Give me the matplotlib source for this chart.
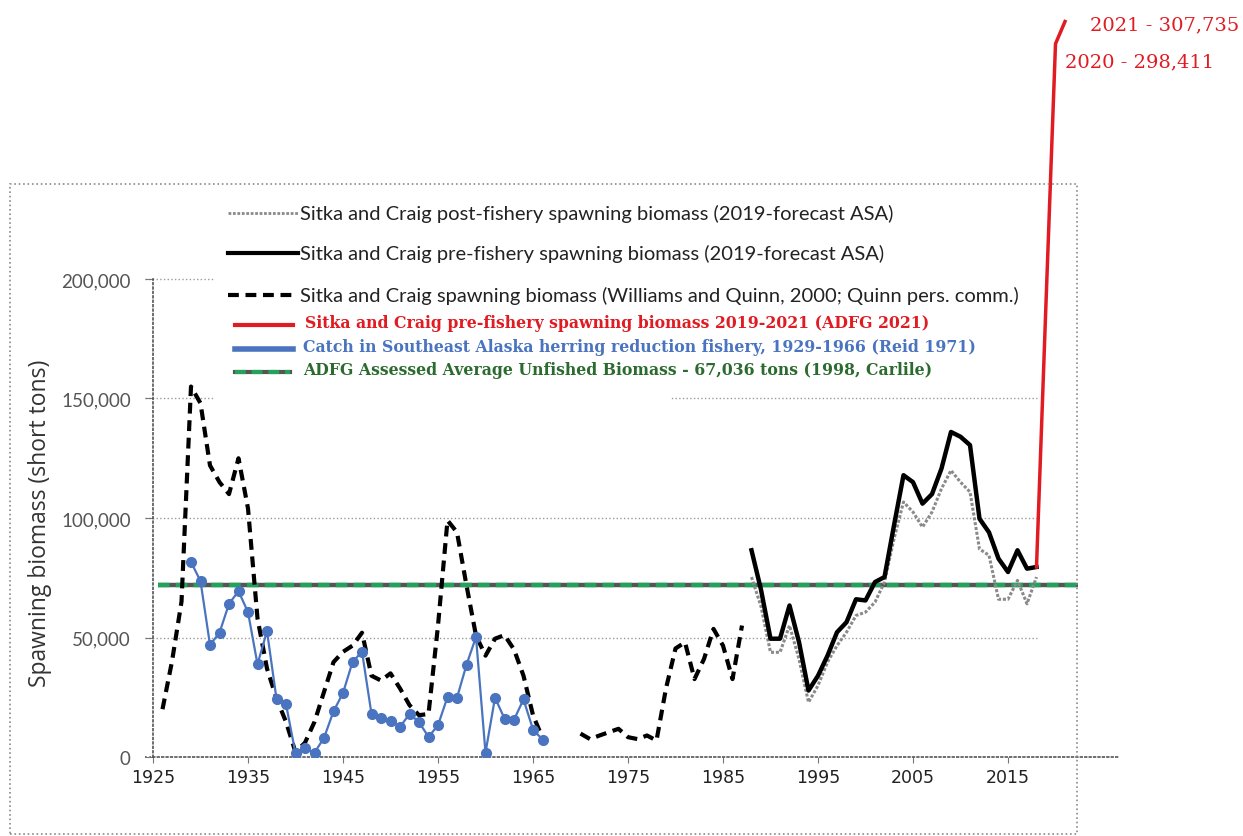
import matplotlib.pyplot as plt
from matplotlib.lines import Line2D
from matplotlib.patches import Rectangle

# Williams and Quinn spawning biomass (dashed black), tons
wq_years_a = list(range(1926, 1967))
wq_vals_a = [20000, 40000, 65000, 155000, 148000, 122000, 115000, 110000, 125000, 104000,
             58000, 37000, 24500, 14700, 2000, 6000, 14700, 27200, 39700, 44000,
             46600, 52000, 34000, 32000, 35000, 28700, 21700, 17500, 18000, 55000,
             99000, 94000, 71800, 50800, 42400, 49500, 51000, 45000, 34000, 17500, 8000]
wq_years_b = list(range(1970, 1988))
wq_vals_b = [9800, 7500, 9000, 10400, 11800, 8300, 7500, 9000, 6900, 28700,
             45400, 48000, 32600, 41000, 53600, 46600, 32600, 55000]

# reduction fishery catch 1929-1966 (blue)
catch_years = list(range(1929, 1967))
catch_vals = [81600, 73600, 46900, 52000, 64100, 69400, 60600, 38800, 52700, 24300,
              22100, 1500, 3600, 1800, 8000, 19100, 26800, 39700, 44100, 18000,
              16300, 15200, 12600, 18000, 14600, 8400, 13300, 25100, 24800, 38600,
              50200, 1800, 24800, 16100, 15600, 24100, 11500, 7300]

# ASA pre-fishery (solid black) and post-fishery (grey dotted)
asa_years = list(range(1988, 2019))
pre_vals = [86500, 70000, 49500, 49500, 63400, 48100, 27800, 34000, 42400, 52200,
            56400, 66000, 65500, 73200, 75300, 96900, 117900, 115000, 106000, 110000,
            120700, 136000, 134000, 130500, 99700, 94000, 83000, 77400, 86500, 78800, 79500]
post_vals = [75300, 63000, 43800, 43800, 55000, 41000, 22900, 29900, 39700, 46600,
             52200, 59200, 60600, 64800, 73200, 91300, 106700, 102500, 96200, 102500,
             112300, 119900, 115000, 110900, 87000, 84400, 66000, 66000, 73900, 64100, 75300]

# ADFG 2019-2021 (red)
adfg_years = [2018, 2019, 2020, 2021]
adfg_vals = [79500, 190000, 298411, 307735]

avg_unfished = 72000

y_ticks = [0, 50000, 100000, 150000, 200000]
y_labels = ['0', '50,000', '100,000', '150,000', '200,000']
x_ticks = list(range(1925, 2016, 10))

legend_labels = [
    'Sitka and Craig post-fishery spawning biomass (2019-forecast ASA)',
    'Sitka and Craig pre-fishery spawning biomass (2019-forecast ASA)',
    'Sitka and Craig spawning biomass (Williams and Quinn, 2000; Quinn pers. comm.)',
    'Sitka and Craig pre-fishery spawning biomass 2019-2021 (ADFG 2021)',
    'Catch in Southeast Alaska herring reduction fishery, 1929-1966 (Reid 1971)',
    'ADFG Assessed Average Unfished Biomass - 67,036 tons (1998, Carlile)',
]

W, H = 1243, 837
RED = '#e01b22'
BLUE = '#4a74c0'
GREEN = '#2c6b2f'


def fx(x):
    return x / W


def fy(y):
    return 1 - y / H


fig = plt.figure(figsize=(12.43, 8.37), dpi=100)
ax = fig.add_axes([fx(153), fy(758), fx(1120) - fx(153), fy(280) - fy(758)])

ax.set_xlim(1925, 1925 + (1120 - 153) / 9.5)
ax.set_ylim(0, 200000)

for s in ['top', 'right']:
    ax.spines[s].set_visible(False)
for s in ['left', 'bottom']:
    ax.spines[s].set_linestyle(':')
    ax.spines[s].set_color('#555555')
    ax.spines[s].set_linewidth(1.2)

# gridlines stop at 2018 like the source
ax.hlines(y_ticks[1:], 1924.2, 2018, colors='#9a9a9a', linestyles=':', linewidth=1,
          clip_on=False, zorder=1)
ax.hlines(0, 1924.2, 1925, colors='#555555', linestyles=':', linewidth=1.2,
          clip_on=False, zorder=1)

ax.set_yticks(y_ticks)
ax.set_yticklabels(y_labels, family='Lato', fontsize=13.5, color='#555555')
ax.set_xticks(x_ticks)
ax.set_xticklabels([str(x) for x in x_ticks], family='Liberation Sans Narrow',
                   fontsize=12.5, color='#222222')
ax.tick_params(axis='y', length=6, color='#777777', pad=10)
ax.tick_params(axis='x', length=4, color='#777777', pad=4)
ax.set_ylabel('Spawning biomass (short tons)', family='Open Sans', fontsize=16.5,
              color='#333333')
ax.yaxis.set_label_coords(-0.104, 0.49)

# average unfished biomass
ax.hlines(avg_unfished, 1925.5, 2022.4, colors='#555555', linewidth=3.2, zorder=2,
          clip_on=False)
ax.hlines(avg_unfished, 1925.5, 2022.4, colors='#21a35c', linewidth=3.2, zorder=2.1,
          linestyles=(0, (2.6, 1.4)), clip_on=False)

ax.plot(wq_years_a, wq_vals_a, color='black', lw=3, dashes=(2.6, 1.6), zorder=3)
ax.plot(wq_years_b, wq_vals_b, color='black', lw=3, dashes=(2.6, 1.6), zorder=3)
ax.plot(catch_years, catch_vals, color=BLUE, lw=1.6, marker='o', ms=7, zorder=4)
ax.plot(asa_years, post_vals, color='#8a8a8a', lw=2.2, ls=(0, (1, 0.6)), zorder=3)
ax.plot(asa_years, pre_vals, color='black', lw=3.2, zorder=3.5)
ax.plot(adfg_years, adfg_vals, color=RED, lw=2.5, zorder=4, clip_on=False)

ax.annotate('2021 - 307,735', (adfg_years[3], adfg_vals[3]), xytext=(18, -2),
            textcoords='offset points', family='DejaVu Serif', fontsize=14,
            color=RED, va='center', ha='left', annotation_clip=False)
ax.annotate('2020 - 298,411', (adfg_years[2], adfg_vals[2]), xytext=(7, -13),
            textcoords='offset points', family='DejaVu Serif', fontsize=14,
            color=RED, va='center', ha='left', annotation_clip=False)

# chart border
fig.add_artist(Rectangle((fx(10), fy(835)), fx(1077) - fx(10), fy(185) - fy(835),
                         transform=fig.transFigure, fill=False, ec='#8a8a8a', ls=':',
                         lw=1.2, zorder=1))

# legend block with white background (hides part of the gridlines)
fig.add_artist(Rectangle((fx(215), fy(340)), fx(1040) - fx(215), fy(192) - fy(340),
                         transform=fig.transFigure, fc='white', ec='none', zorder=1))
fig.add_artist(Rectangle((fx(215), fy(410)), fx(670) - fx(215), fy(340) - fy(410),
                         transform=fig.transFigure, fc='white', ec='none', zorder=1))

handles = [
    dict(y=214, x0=228, x1=298, color='#8a8a8a', lw=2.0, ls=(0, (1, 0.6))),
    dict(y=254, x0=228, x1=298, color='black', lw=3.0, ls='-'),
    dict(y=296, x0=228, x1=298, color='black', lw=3.0, ls=(0, (2.6, 1.6))),
    dict(y=326, x0=235, x1=293, color=RED, lw=3.0, ls='-'),
    dict(y=350, x0=235, x1=293, color=BLUE, lw=4.0, ls='-'),
]
for h in handles:
    fig.add_artist(Line2D([fx(h['x0']), fx(h['x1'])], [fy(h['y']), fy(h['y'])],
                          transform=fig.transFigure, color=h['color'], lw=h['lw'],
                          ls=h['ls'], zorder=5))
fig.add_artist(Line2D([fx(235), fx(290)], [fy(373), fy(373)], transform=fig.transFigure,
                      color='#555555', lw=3.0, zorder=5))
fig.add_artist(Line2D([fx(235), fx(290)], [fy(373), fy(373)], transform=fig.transFigure,
                      color='#21a35c', lw=3.0, ls=(0, (2.6, 1.4)), zorder=5))

text_pos = [(300, 214), (300, 254), (300, 296), (305, 323), (303, 348), (303, 371)]
text_col = ['#222222', '#222222', '#222222', RED, BLUE, GREEN]
for i, lab in enumerate(legend_labels):
    x, y = text_pos[i]
    if i < 3:
        fig.text(fx(x), fy(y), lab, family='Lato', fontsize=14.5, color=text_col[i],
                 va='center', ha='left', zorder=6)
    else:
        fig.text(fx(x), fy(y), lab, family='DejaVu Serif', fontweight='bold',
                 fontsize=11.3, color=text_col[i], va='center', ha='left', zorder=6)

fig.savefig('out.png', dpi=100)
